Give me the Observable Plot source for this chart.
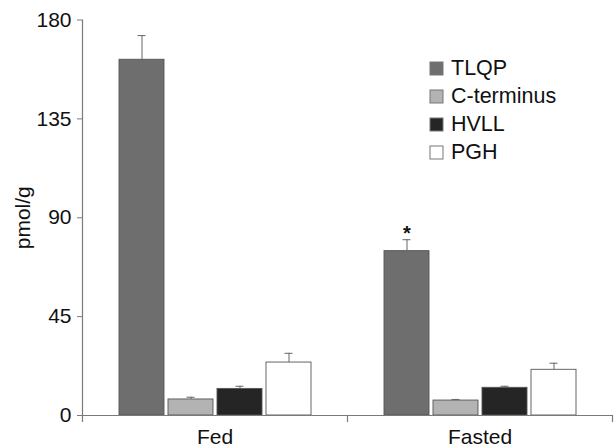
<!DOCTYPE html>
<html>
<head>
<meta charset="utf-8">
<script src="https://cdn.jsdelivr.net/npm/d3@7"></script>
<script src="https://cdn.jsdelivr.net/npm/@observablehq/plot@0.6"></script>
<style>
  html, body { margin: 0; padding: 0; background: #fff; }
  #wrap { position: relative; width: 615px; height: 447px; overflow: hidden; font-family: "Liberation Sans", Arial, sans-serif; }
  #legend { position: absolute; left: 430px; top: 54px; }
  #legend .lg-swatches { font-family: "Liberation Sans", Arial, sans-serif; font-size: 21.5px; color: #111; margin: 0 !important; min-height: 0 !important; }
  #legend .lg-swatch { height: 28px; padding: 0 !important; margin: 0 !important; display: flex; align-items: center; }
  #legend .lg-swatch svg { margin-right: 8px !important; }
  #legend .lg-swatch svg rect { stroke: #777; stroke-width: 1; }
</style>
</head>
<body>
<div id="wrap"></div>
<script>
const groups = ["Fed", "Fasted"];
const series = ["TLQP", "C-terminus", "HVLL", "PGH"];
const fedValues = [161.9, 7.3, 12.1, 24.1];
const fedErrors = [11.0, 1.0, 1.2, 4.2];
const fastedValues = [74.8, 6.8, 12.6, 20.8];
const fastedErrors = [5.2, 0.5, 0.7, 3.0];
const colors = ["#6e6e6e", "#b3b3b3", "#252525", "#ffffff"];
const yTicks = [0, 45, 90, 135, 180];
const significance = [{group: "Fasted", series: "TLQP", label: "*"}];

const data = [];
series.forEach((s, i) => {
  data.push({group: "Fed", series: s, value: fedValues[i], err: fedErrors[i]});
  data.push({group: "Fasted", series: s, value: fastedValues[i], err: fastedErrors[i]});
});
const errTop = d => d.value + d.err;
const sigData = significance.map(m => {
  const d = data.find(e => e.group === m.group && e.series === m.series);
  return {...m, y: errTop(d)};
});

const W = 615, H = 447;
const mTop = 19.5, mBottom = 32, mLeft = 82, mRight = 3;
const innerH = H - mTop - mBottom;
const axisColor = "#7a7a7a";

const chart = Plot.plot({
  width: W, height: H, marginTop: mTop, marginBottom: mBottom, marginLeft: mLeft, marginRight: mRight,
  style: {fontFamily: "'Liberation Sans', Arial, sans-serif", fontSize: "21px", color: "#111", background: "#fff"},
  fx: {domain: groups, padding: 0, axis: null},
  x: {domain: series, paddingInner: 0.087, paddingOuter: 0.73, axis: null},
  y: {domain: [0, 180], axis: null},
  color: {domain: series, range: colors},
  marks: [
    Plot.barY(data, {fx: "group", x: "series", y: "value", fill: "series", stroke: "#555", strokeWidth: 0.9}),
    Plot.ruleX(data, {fx: "group", x: "series", y1: "value", y2: errTop, stroke: "#666", strokeWidth: 1}),
    Plot.tickY(data, {fx: "group", x: "series", y: errTop, stroke: "#666", strokeWidth: 1, insetLeft: 18.5, insetRight: 18.5}),
    Plot.text(sigData, {fx: "group", x: "series", y: "y", text: "label", dy: -6, fontSize: 20, fontWeight: "bold", lineAnchor: "middle", fill: "#111"}),
    Plot.ruleY([0], {stroke: axisColor, strokeWidth: 1.2}),
    Plot.frame({anchor: "left", facetAnchor: "left", stroke: axisColor, strokeWidth: 1.2, insetBottom: -6}),
    Plot.frame({anchor: "right", stroke: axisColor, strokeWidth: 1.2, insetTop: innerH, insetBottom: -6}),
    Plot.axisY({ticks: yTicks, tickSize: 5, tickPadding: 6, stroke: axisColor, fill: "#111", fontSize: 21, label: "pmol/g", labelAnchor: "center", labelOffset: 67, labelArrow: "none"}),
    Plot.axisFx({anchor: "bottom", tickSize: 0, tickPadding: 14, label: null, fill: "#111", fontSize: 21})
  ]
});

const wrap = document.getElementById("wrap");
wrap.appendChild(chart);
const legend = Plot.legend({color: {domain: series, range: colors}, swatchSize: 13, columns: 1, className: "lg"});
const ld = document.createElement("div");
ld.id = "legend";
ld.appendChild(legend);
wrap.appendChild(ld);
</script>
</body>
</html>
